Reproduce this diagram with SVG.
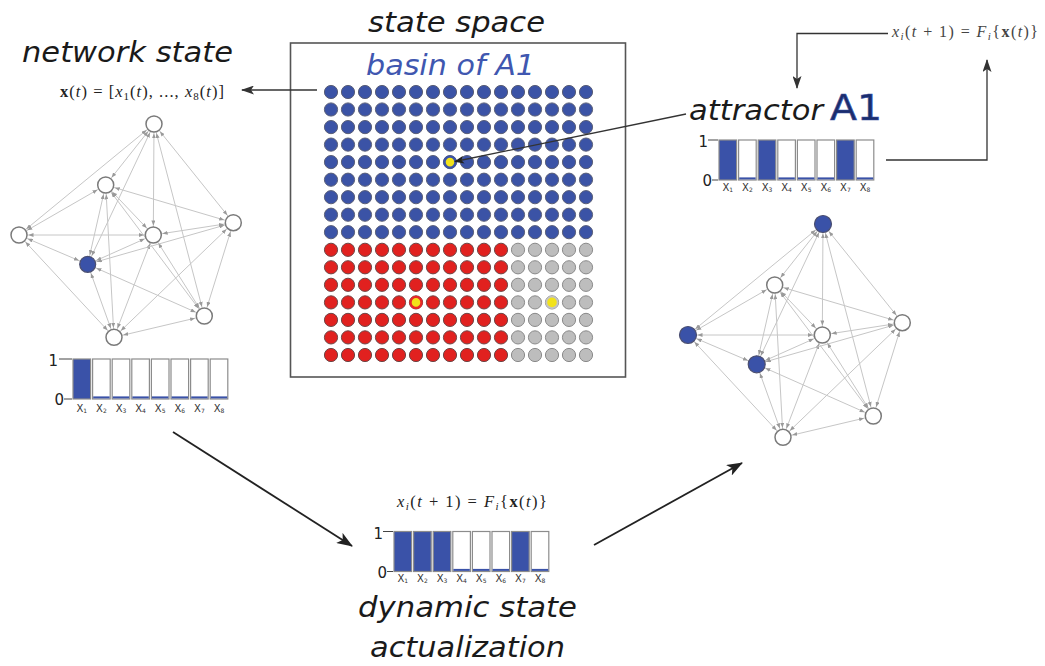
<svg xmlns="http://www.w3.org/2000/svg" xmlns:xlink="http://www.w3.org/1999/xlink" width="1045" height="666" viewBox="0 0 1045 666">
<style>
.t{font-family:"DejaVu Sans","Liberation Sans",sans-serif;font-style:italic;font-size:28px;fill:#1a1a1a}
.m{font-family:"Liberation Serif","DejaVu Serif",serif;font-size:16.5px;fill:#222}
.it{font-style:italic}
.edge{stroke:#c6c6c6;stroke-width:1;fill:none;marker-start:url(#ea);marker-end:url(#ea)}
.node{fill:#fff;stroke:#7a7a7a;stroke-width:1.5}
.on{fill:#3a52a8;stroke:#4b4f70;stroke-width:1.2}
.bar{fill:#fff;stroke:#8c8c8c;stroke-width:1.2}
.barOn{fill:#3a52a8;stroke:#8c8c8c;stroke-width:1.2}
.base{fill:#3a52a8}
.lab{font-family:"DejaVu Sans",sans-serif;font-size:10px;fill:#333;text-anchor:middle}
.sub{font-size:6px}
.ax{font-family:"DejaVu Sans",sans-serif;font-size:15px;fill:#222;text-anchor:end}
.tick{stroke:#444;stroke-width:1;fill:none}
.arrow{stroke:#222;stroke-width:1.8;fill:none}
.fb{stroke:#333;stroke-width:1.3;fill:none}
.dB{fill:#3b53a6;stroke:#5a5f78;stroke-width:1}
.dR{fill:#e1211f;stroke:#6e4646;stroke-width:1}
.dG{fill:#bdbdbd;stroke:#8a8a8a;stroke-width:1}
</style>
<defs>
<marker id="ea" markerUnits="userSpaceOnUse" markerWidth="5" markerHeight="4" refX="14.5" refY="2" orient="auto-start-reverse"><path d="M0,0 L5,2 L0,4 z" fill="#9a9a9a"/></marker>
<marker id="big" markerUnits="userSpaceOnUse" markerWidth="16" markerHeight="12" refX="15" refY="6" orient="auto"><path d="M0,0 L16,6 L0,12 L4,6 z" fill="#222"/></marker>
<marker id="mid" markerUnits="userSpaceOnUse" markerWidth="13" markerHeight="9" refX="12" refY="4.5" orient="auto"><path d="M0,0 L13,4.5 L0,9 L3,4.5 z" fill="#333"/></marker>
<marker id="sm" markerUnits="userSpaceOnUse" markerWidth="10" markerHeight="8" refX="9" refY="4" orient="auto"><path d="M0,0 L10,4 L0,8 L2.5,4 z" fill="#222"/></marker>
<g id="row11"><circle cx="331" cy="0" r="6.6"/><circle cx="348" cy="0" r="6.6"/><circle cx="365" cy="0" r="6.6"/><circle cx="382" cy="0" r="6.6"/><circle cx="399" cy="0" r="6.6"/><circle cx="416" cy="0" r="6.6"/><circle cx="433" cy="0" r="6.6"/><circle cx="450" cy="0" r="6.6"/><circle cx="467" cy="0" r="6.6"/><circle cx="484" cy="0" r="6.6"/><circle cx="501" cy="0" r="6.6"/></g>
<g id="row5"><circle cx="518" cy="0" r="6.6"/><circle cx="535" cy="0" r="6.6"/><circle cx="552" cy="0" r="6.6"/><circle cx="569" cy="0" r="6.6"/><circle cx="586" cy="0" r="6.6"/></g>
</defs>
<rect width="1045" height="666" fill="#fff"/>

<!-- titles -->
<text class="t" x="22" y="62" textLength="211" lengthAdjust="spacingAndGlyphs">network state</text>
<text class="t" x="368" y="32" textLength="177" lengthAdjust="spacingAndGlyphs">state space</text>
<text class="t" x="689" y="120" textLength="134" lengthAdjust="spacingAndGlyphs">attractor</text>
<text x="830" y="120" font-family="DejaVu Sans,sans-serif" font-size="35" fill="#1b2d6b" stroke="#3a52a8" stroke-width="0.6" textLength="52" lengthAdjust="spacingAndGlyphs">A1</text>
<text class="t" x="358" y="617" textLength="219" lengthAdjust="spacingAndGlyphs">dynamic state</text>
<text class="t" x="370" y="657" textLength="195" lengthAdjust="spacingAndGlyphs">actualization</text>

<!-- formulas -->
<text class="m" x="60" y="97" textLength="164" lengthAdjust="spacing"><tspan font-weight="bold">x</tspan>(<tspan class="it">t</tspan>) = [<tspan class="it">x</tspan><tspan font-size="11" dy="3">1</tspan><tspan dy="-3">(</tspan><tspan class="it">t</tspan>), ..., <tspan class="it">x</tspan><tspan font-size="11" dy="3">8</tspan><tspan dy="-3">(</tspan><tspan class="it">t</tspan>)]</text>
<text class="m" x="892" y="37" font-size="16" fill="#444" style="font-size:16px;fill:#444" textLength="146" lengthAdjust="spacing"><tspan class="it">x</tspan><tspan class="it" font-size="11" dy="3">i</tspan><tspan dy="-3">(</tspan><tspan class="it">t</tspan> + 1) = <tspan class="it">F</tspan><tspan class="it" font-size="11" dy="3">i</tspan><tspan dy="-3">{</tspan><tspan font-weight="bold">x</tspan>(<tspan class="it">t</tspan>)}</text>
<text class="m" x="397" y="507" textLength="150" lengthAdjust="spacing"><tspan class="it">x</tspan><tspan class="it" font-size="11" dy="3">i</tspan><tspan dy="-3">(</tspan><tspan class="it">t</tspan> + 1) = <tspan class="it">F</tspan><tspan class="it" font-size="11" dy="3">i</tspan><tspan dy="-3">{</tspan><tspan font-weight="bold">x</tspan>(<tspan class="it">t</tspan>)}</text>

<!-- state space -->
<g id="state-space">
<rect x="290.5" y="43" width="335" height="334" fill="#fff" stroke="#555" stroke-width="1.6"/>
<text class="t" x="366" y="75" style="fill:#4057b0" textLength="169" lengthAdjust="spacingAndGlyphs">basin of A1</text>
<g class="dB">
<use xlink:href="#row11" y="92"/><use xlink:href="#row5" y="92"/>
<use xlink:href="#row11" y="109.5"/><use xlink:href="#row5" y="109.5"/>
<use xlink:href="#row11" y="127.1"/><use xlink:href="#row5" y="127.1"/>
<use xlink:href="#row11" y="144.6"/><use xlink:href="#row5" y="144.6"/>
<use xlink:href="#row11" y="162.1"/><use xlink:href="#row5" y="162.1"/>
<use xlink:href="#row11" y="179.7"/><use xlink:href="#row5" y="179.7"/>
<use xlink:href="#row11" y="197.2"/><use xlink:href="#row5" y="197.2"/>
<use xlink:href="#row11" y="214.7"/><use xlink:href="#row5" y="214.7"/>
<use xlink:href="#row11" y="232.2"/><use xlink:href="#row5" y="232.2"/>
</g>
<g class="dR">
<use xlink:href="#row11" y="249.8"/>
<use xlink:href="#row11" y="267.3"/>
<use xlink:href="#row11" y="284.8"/>
<use xlink:href="#row11" y="302.4"/>
<use xlink:href="#row11" y="319.9"/>
<use xlink:href="#row11" y="337.4"/>
<use xlink:href="#row11" y="355"/>
</g>
<g class="dG">
<use xlink:href="#row5" y="249.8"/>
<use xlink:href="#row5" y="267.3"/>
<use xlink:href="#row5" y="284.8"/>
<use xlink:href="#row5" y="302.4"/>
<use xlink:href="#row5" y="319.9"/>
<use xlink:href="#row5" y="337.4"/>
<use xlink:href="#row5" y="355"/>
</g>
<circle cx="450" cy="162.1" r="5.5" fill="#f2e21a" stroke="#3b53a6" stroke-width="2.4"/>
<circle cx="416" cy="302.4" r="5.5" fill="#f2e21a" stroke="#e8282a" stroke-width="2.4"/>
<circle cx="552" cy="302.4" r="5.7" fill="#f2e21a" stroke="#c4c4c4" stroke-width="1.8"/>
</g>

<!-- main connectors -->
<g id="connectors">
<path class="fb" d="M317,90 H242" marker-end="url(#mid)"/>
<path class="fb" d="M686,114 L455,161.5" stroke-width="1.1" marker-end="url(#sm)"/>
<path class="fb" d="M888,33.5 H797 V88" marker-end="url(#mid)"/>
<path class="fb" d="M886,160 H987 V60" marker-end="url(#mid)"/>
<path class="arrow" d="M173,432 L352,546" marker-end="url(#big)"/>
<path class="arrow" d="M594,545 L742,463" marker-end="url(#big)"/>
</g>

<!-- left network -->
<g id="net-left">
<g id="net-left-edges">
<line class="edge" x1="154" y1="124" x2="19" y2="235"/>
<line class="edge" x1="154" y1="124" x2="105.7" y2="185"/>
<line class="edge" x1="154" y1="124" x2="153.3" y2="235"/>
<line class="edge" x1="154" y1="124" x2="233.3" y2="222.7"/>
<line class="edge" x1="154" y1="124" x2="204.3" y2="316"/>
<line class="edge" x1="154" y1="124" x2="87.7" y2="264.3"/>
<line class="edge" x1="105.7" y1="185" x2="19" y2="235"/>
<line class="edge" x1="105.7" y1="185" x2="153.3" y2="235"/>
<line class="edge" x1="105.7" y1="185" x2="233.3" y2="222.7"/>
<line class="edge" x1="105.7" y1="185" x2="87.7" y2="264.3"/>
<line class="edge" x1="105.7" y1="185" x2="114" y2="337.3"/>
<line class="edge" x1="105.7" y1="185" x2="204.3" y2="316"/>
<line class="edge" x1="19" y1="235" x2="153.3" y2="235"/>
<line class="edge" x1="19" y1="235" x2="87.7" y2="264.3"/>
<line class="edge" x1="19" y1="235" x2="114" y2="337.3"/>
<line class="edge" x1="153.3" y1="235" x2="233.3" y2="222.7"/>
<line class="edge" x1="153.3" y1="235" x2="87.7" y2="264.3"/>
<line class="edge" x1="153.3" y1="235" x2="114" y2="337.3"/>
<line class="edge" x1="153.3" y1="235" x2="204.3" y2="316"/>
<line class="edge" x1="233.3" y1="222.7" x2="87.7" y2="264.3"/>
<line class="edge" x1="233.3" y1="222.7" x2="204.3" y2="316"/>
<line class="edge" x1="233.3" y1="222.7" x2="114" y2="337.3"/>
<line class="edge" x1="87.7" y1="264.3" x2="204.3" y2="316"/>
<line class="edge" x1="87.7" y1="264.3" x2="114" y2="337.3"/>
<line class="edge" x1="204.3" y1="316" x2="114" y2="337.3"/>
</g>
<g id="nl-top"><circle class="node" cx="154" cy="124" r="8"/></g>
<g id="nl-upper"><circle class="node" cx="105.7" cy="185" r="8"/></g>
<g id="nl-left"><circle class="node" cx="19" cy="235" r="8"/></g>
<g id="nl-center"><circle class="node" cx="153.3" cy="235" r="8"/></g>
<g id="nl-right"><circle class="node" cx="233.3" cy="222.7" r="8"/></g>
<g id="nl-blue"><circle class="node on" cx="87.7" cy="264.3" r="8"/></g>
<g id="nl-lowright"><circle class="node" cx="204.3" cy="316" r="8"/></g>
<g id="nl-bottom"><circle class="node" cx="114" cy="337.3" r="8"/></g>
</g>

<!-- right network -->
<g id="net-right" transform="translate(669,100)">
<g id="net-right-edges">
<line class="edge" x1="154" y1="124" x2="19" y2="235"/>
<line class="edge" x1="154" y1="124" x2="105.7" y2="185"/>
<line class="edge" x1="154" y1="124" x2="153.3" y2="235"/>
<line class="edge" x1="154" y1="124" x2="233.3" y2="222.7"/>
<line class="edge" x1="154" y1="124" x2="204.3" y2="316"/>
<line class="edge" x1="154" y1="124" x2="87.7" y2="264.3"/>
<line class="edge" x1="105.7" y1="185" x2="19" y2="235"/>
<line class="edge" x1="105.7" y1="185" x2="153.3" y2="235"/>
<line class="edge" x1="105.7" y1="185" x2="233.3" y2="222.7"/>
<line class="edge" x1="105.7" y1="185" x2="87.7" y2="264.3"/>
<line class="edge" x1="105.7" y1="185" x2="114" y2="337.3"/>
<line class="edge" x1="105.7" y1="185" x2="204.3" y2="316"/>
<line class="edge" x1="19" y1="235" x2="153.3" y2="235"/>
<line class="edge" x1="19" y1="235" x2="87.7" y2="264.3"/>
<line class="edge" x1="19" y1="235" x2="114" y2="337.3"/>
<line class="edge" x1="153.3" y1="235" x2="233.3" y2="222.7"/>
<line class="edge" x1="153.3" y1="235" x2="87.7" y2="264.3"/>
<line class="edge" x1="153.3" y1="235" x2="114" y2="337.3"/>
<line class="edge" x1="153.3" y1="235" x2="204.3" y2="316"/>
<line class="edge" x1="233.3" y1="222.7" x2="87.7" y2="264.3"/>
<line class="edge" x1="233.3" y1="222.7" x2="204.3" y2="316"/>
<line class="edge" x1="233.3" y1="222.7" x2="114" y2="337.3"/>
<line class="edge" x1="87.7" y1="264.3" x2="204.3" y2="316"/>
<line class="edge" x1="87.7" y1="264.3" x2="114" y2="337.3"/>
<line class="edge" x1="204.3" y1="316" x2="114" y2="337.3"/>
</g>
<g id="nr-top"><circle class="node on" cx="154" cy="124" r="8.5"/></g>
<g id="nr-upper"><circle class="node" cx="105.7" cy="185" r="8"/></g>
<g id="nr-left"><circle class="node on" cx="19" cy="235" r="8.5"/></g>
<g id="nr-center"><circle class="node" cx="153.3" cy="235" r="8"/></g>
<g id="nr-right"><circle class="node" cx="233.3" cy="222.7" r="8"/></g>
<g id="nr-blue"><circle class="node on" cx="87.7" cy="264.3" r="8.5"/></g>
<g id="nr-lowright"><circle class="node" cx="204.3" cy="316" r="8"/></g>
<g id="nr-bottom"><circle class="node" cx="114" cy="337.3" r="8"/></g>
</g>

<!-- bar chart: network state -->
<g id="chart-left" transform="translate(72,359)">
<path class="tick" d="M-13,0H0M-8,40H0"/>
<text class="ax" x="-14" y="7">1</text>
<text class="ax" x="-8" y="46">0</text>
<rect class="barOn" x="1" y="0" width="17.6" height="40"/>
<rect class="bar" x="20.6" y="0" width="17.6" height="40"/>
<rect class="bar" x="40.2" y="0" width="17.6" height="40"/>
<rect class="bar" x="59.8" y="0" width="17.6" height="40"/>
<rect class="bar" x="79.4" y="0" width="17.6" height="40"/>
<rect class="bar" x="99" y="0" width="17.6" height="40"/>
<rect class="bar" x="118.6" y="0" width="17.6" height="40"/>
<rect class="bar" x="138.2" y="0" width="17.6" height="40"/>
<rect class="base" x="21.2" y="37.4" width="16.4" height="2"/>
<rect class="base" x="40.8" y="37.4" width="16.4" height="2"/>
<rect class="base" x="60.4" y="37.4" width="16.4" height="2"/>
<rect class="base" x="80" y="37.4" width="16.4" height="2"/>
<rect class="base" x="99.6" y="37.4" width="16.4" height="2"/>
<rect class="base" x="119.2" y="37.4" width="16.4" height="2"/>
<rect class="base" x="138.8" y="37.4" width="16.4" height="2"/>
<text class="lab" x="9.8" y="53">X<tspan class="sub" dy="1">1</tspan></text>
<text class="lab" x="29.4" y="53">X<tspan class="sub" dy="1">2</tspan></text>
<text class="lab" x="49" y="53">X<tspan class="sub" dy="1">3</tspan></text>
<text class="lab" x="68.6" y="53">X<tspan class="sub" dy="1">4</tspan></text>
<text class="lab" x="88.2" y="53">X<tspan class="sub" dy="1">5</tspan></text>
<text class="lab" x="107.8" y="53">X<tspan class="sub" dy="1">6</tspan></text>
<text class="lab" x="127.4" y="53">X<tspan class="sub" dy="1">7</tspan></text>
<text class="lab" x="147" y="53">X<tspan class="sub" dy="1">8</tspan></text>
</g>

<!-- bar chart: attractor -->
<g id="chart-attractor" transform="translate(718,140)">
<path class="tick" d="M-10,0H0M-6,40H0"/>
<text class="ax" x="-10" y="7">1</text>
<text class="ax" x="-6" y="46">0</text>
<rect class="barOn" x="1" y="0" width="17.6" height="40"/>
<rect class="bar" x="20.6" y="0" width="17.6" height="40"/>
<rect class="barOn" x="40.2" y="0" width="17.6" height="40"/>
<rect class="bar" x="59.8" y="0" width="17.6" height="40"/>
<rect class="bar" x="79.4" y="0" width="17.6" height="40"/>
<rect class="bar" x="99" y="0" width="17.6" height="40"/>
<rect class="barOn" x="118.6" y="0" width="17.6" height="40"/>
<rect class="bar" x="138.2" y="0" width="17.6" height="40"/>
<rect class="base" x="21.2" y="37.4" width="16.4" height="2"/>
<rect class="base" x="60.4" y="37.4" width="16.4" height="2"/>
<rect class="base" x="80" y="37.4" width="16.4" height="2"/>
<rect class="base" x="99.6" y="37.4" width="16.4" height="2"/>
<rect class="base" x="138.8" y="37.4" width="16.4" height="2"/>
<text class="lab" x="9.8" y="51">X<tspan class="sub" dy="1">1</tspan></text>
<text class="lab" x="29.4" y="51">X<tspan class="sub" dy="1">2</tspan></text>
<text class="lab" x="49" y="51">X<tspan class="sub" dy="1">3</tspan></text>
<text class="lab" x="68.6" y="51">X<tspan class="sub" dy="1">4</tspan></text>
<text class="lab" x="88.2" y="51">X<tspan class="sub" dy="1">5</tspan></text>
<text class="lab" x="107.8" y="51">X<tspan class="sub" dy="1">6</tspan></text>
<text class="lab" x="127.4" y="51">X<tspan class="sub" dy="1">7</tspan></text>
<text class="lab" x="147" y="51">X<tspan class="sub" dy="1">8</tspan></text>
</g>

<!-- bar chart: dynamic state -->
<g id="chart-dynamic" transform="translate(393,531.5)">
<path class="tick" d="M-10,0H0M-6,40H0"/>
<text class="ax" x="-10" y="7">1</text>
<text class="ax" x="-6" y="46">0</text>
<rect class="barOn" x="1" y="0" width="17.6" height="40"/>
<rect class="barOn" x="20.6" y="0" width="17.6" height="40"/>
<rect class="barOn" x="40.2" y="0" width="17.6" height="40"/>
<rect class="bar" x="59.8" y="0" width="17.6" height="40"/>
<rect class="bar" x="79.4" y="0" width="17.6" height="40"/>
<rect class="bar" x="99" y="0" width="17.6" height="40"/>
<rect class="barOn" x="118.6" y="0" width="17.6" height="40"/>
<rect class="bar" x="138.2" y="0" width="17.6" height="40"/>
<rect class="base" x="60.4" y="37.4" width="16.4" height="2"/>
<rect class="base" x="80" y="37.4" width="16.4" height="2"/>
<rect class="base" x="99.6" y="37.4" width="16.4" height="2"/>
<rect class="base" x="138.8" y="37.4" width="16.4" height="2"/>
<text class="lab" x="9.8" y="50">X<tspan class="sub" dy="1">1</tspan></text>
<text class="lab" x="29.4" y="50">X<tspan class="sub" dy="1">2</tspan></text>
<text class="lab" x="49" y="50">X<tspan class="sub" dy="1">3</tspan></text>
<text class="lab" x="68.6" y="50">X<tspan class="sub" dy="1">4</tspan></text>
<text class="lab" x="88.2" y="50">X<tspan class="sub" dy="1">5</tspan></text>
<text class="lab" x="107.8" y="50">X<tspan class="sub" dy="1">6</tspan></text>
<text class="lab" x="127.4" y="50">X<tspan class="sub" dy="1">7</tspan></text>
<text class="lab" x="147" y="50">X<tspan class="sub" dy="1">8</tspan></text>
</g>
</svg>
